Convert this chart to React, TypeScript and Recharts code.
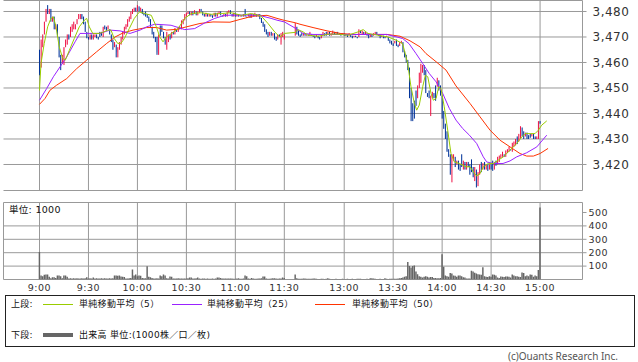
import { ComposedChart, Bar, Line, XAxis, YAxis, CartesianGrid } from "recharts";

// minute index from 9:00; afternoon session (12:30) starts after a small gap
const pmStart = 156.7;
const amTicks = [0, 30, 60, 90, 120, 150];
const pmTicks = [30, 60, 90, 120, 150];
const timeLabels = ["9:00", "9:30", "10:00", "10:30", "11:00", "11:30", "13:00", "13:30", "14:00", "14:30", "15:00"];
const timeTicks = [...amTicks, ...pmTicks.map((m) => pmStart + m)];
const xDomain: [number, number] = [-22.06, 332.7];

const priceTicks = [3420, 3430, 3440, 3450, 3460, 3470, 3480];
const priceDomain: [number, number] = [3409.8, 3484.31];
const volTicks = [100, 200, 300, 400, 500];
const volGrid = [100, 200, 300, 400];
const volDomain: [number, number] = [0, 574.6];

// morning session 9:00-11:30, one candle per minute
const amOpen = [
  3465, 3458, 3466, 3471, 3476, 3481, 3479, 3481, 3476, 3478,
  3473, 3475, 3470, 3463, 3459.5, 3462, 3466, 3467, 3471, 3470,
  3472, 3473, 3473, 3475, 3477, 3477, 3479, 3478, 3476, 3472,
  3470, 3469, 3471, 3469, 3470, 3471, 3470, 3472, 3472, 3470,
  3474.5, 3474, 3473, 3473, 3471, 3469, 3466, 3467, 3464, 3465,
  3467, 3469, 3471, 3473, 3474, 3476, 3477, 3479, 3480, 3481.5,
  3480, 3482, 3480, 3481, 3479.5, 3480, 3479, 3478, 3477, 3474,
  3472, 3470, 3470, 3463, 3474.5, 3474.5, 3472, 3470, 3466, 3468,
  3471, 3469.5, 3472, 3471, 3473, 3472, 3474, 3473, 3475, 3476.5,
  3478, 3479, 3480, 3478.5, 3480, 3479, 3480, 3478.5, 3479.5, 3481,
  3480, 3479, 3478, 3479, 3478, 3479, 3478.5, 3478, 3479.5, 3478,
  3479, 3480, 3478.5, 3478, 3479, 3478, 3479.5, 3480.5, 3479, 3478,
  3479.5, 3478, 3479, 3478, 3478.5, 3478, 3480.5, 3478, 3478, 3479,
  3477.5, 3479, 3478, 3479, 3478, 3479, 3477.5, 3476, 3475, 3473,
  3472, 3470.5, 3472, 3470.5, 3471.5, 3470, 3469, 3471, 3468, 3470,
  3469,
];
const amClose = [
  3458, 3468, 3471, 3476, 3481, 3479, 3481, 3476, 3478, 3473,
  3475, 3470, 3462, 3459, 3463, 3466, 3469, 3471, 3469, 3474,
  3475, 3476, 3475, 3477, 3479, 3479, 3477, 3475, 3472, 3469.5,
  3469, 3471, 3469, 3471, 3471, 3469.5, 3469, 3470, 3470.5, 3474,
  3473, 3472.5, 3474.5, 3471, 3468, 3465, 3468, 3464, 3466, 3468,
  3470, 3472, 3474, 3475, 3477, 3478, 3480, 3481, 3481.5, 3480,
  3482, 3480, 3481.5, 3479, 3478.5, 3478, 3477.5, 3476, 3474, 3471,
  3469.5, 3468, 3464, 3471, 3470.5, 3472, 3469.5, 3467, 3472, 3471,
  3469, 3472, 3471, 3473.5, 3472, 3474, 3473, 3476.5, 3477, 3479,
  3479.5, 3480, 3478.5, 3480, 3478.5, 3480.5, 3478.5, 3480, 3481, 3480,
  3478.5, 3478, 3479.5, 3478, 3479, 3478, 3477.5, 3479.5, 3478, 3479.5,
  3480, 3478.5, 3478, 3479, 3478, 3480, 3480.5, 3479, 3478, 3479.5,
  3478, 3479, 3478, 3478.5, 3478, 3479, 3478, 3477.5, 3479, 3477.5,
  3479, 3478, 3479.5, 3478, 3479, 3477, 3475.5, 3474, 3472, 3471,
  3470, 3472, 3470.5, 3471.5, 3469, 3468.5, 3471, 3470, 3471.5, 3472,
  3471,
];
// [minute, low, high] where a wick shows
const amWicks = [
  [0, 3455, 3465], [1, 3458, 3469], [5, 3479, 3482.5], [13, 3457, 3463],
  [15, 3459, 3466], [47, 3462, 3467], [48, 3462, 3466], [60, 3480, 3482.5],
  [72, 3463, 3470], [78, 3465, 3472], [126, 3478, 3481], [148, 3467, 3471.5],
];

// afternoon session 12:30-15:00
const pmOpen = [
  3470.5, 3474, 3472.5, 3471, 3471.5, 3470.5, 3471.5, 3470.5, 3471, 3470.5,
  3471, 3470.5, 3470.5, 3470, 3470.5, 3470, 3469.5, 3470.5, 3471.5, 3472,
  3471, 3472, 3470.5, 3471, 3472, 3471, 3472, 3471, 3471.5, 3471,
  3471.5, 3471, 3471, 3470.5, 3471, 3470.5, 3470, 3470.5, 3470, 3470,
  3472.5, 3471, 3472, 3471, 3471.5, 3471, 3470, 3471, 3470.5, 3471,
  3472, 3471, 3471, 3470, 3470.5, 3470, 3470, 3470, 3469, 3468.5,
  3467.5, 3467.5, 3469, 3467, 3466.5, 3467.5, 3468, 3464.5, 3463, 3461,
  3458, 3450, 3444, 3445, 3449, 3446, 3450, 3452, 3456, 3459,
  3457, 3448, 3449, 3440, 3446, 3448, 3451, 3450.5, 3453, 3451,
  3447, 3441, 3436, 3433, 3426, 3424, 3419, 3421.5, 3423, 3420,
  3421.5, 3420, 3424, 3418, 3421, 3418, 3421, 3420, 3422, 3419,
  3413.5, 3418, 3414, 3416, 3421, 3418, 3421, 3418, 3420, 3418,
  3420, 3421.5, 3418, 3421.5, 3420, 3421, 3422.5, 3423, 3424, 3423,
  3424.5, 3425, 3426, 3425, 3427, 3427.5, 3431, 3429, 3430, 3434.5,
  3433, 3431, 3432.5, 3431.5, 3432, 3431, 3432, 3431, 3430, 3430,
  3437,
];
const pmClose = [
  3475, 3471, 3470.5, 3470, 3470.5, 3471.5, 3470.5, 3471, 3470.5, 3472,
  3470.5, 3470, 3469.5, 3471, 3469.5, 3469, 3470.5, 3472, 3470.5, 3470.5,
  3472, 3470.5, 3471.5, 3472.5, 3471, 3472, 3471, 3471.5, 3470.5, 3471.5,
  3470.5, 3470.5, 3470, 3471.5, 3470, 3469.5, 3470.5, 3470, 3469.5, 3473,
  3471.5, 3472.5, 3471, 3472, 3470.5, 3469.5, 3471, 3470, 3471.5, 3472,
  3471, 3470.5, 3469.5, 3470.5, 3469.5, 3469.5, 3470.5, 3468.5, 3467.5, 3467,
  3466.5, 3468.5, 3466.5, 3466, 3468, 3468.5, 3464, 3462, 3460, 3457,
  3446, 3440, 3439, 3438, 3443, 3451, 3456, 3459.5, 3459, 3455,
  3448, 3446.5, 3446, 3447, 3448.5, 3446, 3445, 3454, 3449, 3447,
  3438, 3434, 3430, 3425, 3423, 3416, 3424, 3424, 3419, 3421.5,
  3418, 3417.5, 3419, 3421.5, 3418, 3421, 3419, 3416, 3417, 3415,
  3419, 3414, 3417, 3420, 3417, 3420.5, 3418, 3420, 3417.5, 3420,
  3418, 3417.5, 3421, 3419.5, 3423, 3423.5, 3424, 3425, 3423, 3425.5,
  3426, 3427, 3425.5, 3428.5, 3429, 3430, 3428, 3432, 3435, 3431,
  3430, 3432.5, 3430, 3430, 3430.5, 3432, 3430, 3430, 3431, 3437,
  3436,
];
const pmWicks = [
  [0, 3470.5, 3475.5], [71, 3437, 3450], [72, 3437, 3444], [83, 3439, 3447],
  [96, 3413, 3424], [111, 3411, 3418], [112, 3411.5, 3417],
];

// volume, in 1000 shares
const amVol = [
  205, 30, 25, 35, 37, 37, 20, 10, 17, 17,
  12, 30, 30, 25, 10, 30, 30, 20, 8, 10,
  8, 10, 8, 10, 8, 8, 10, 8, 10, 17,
  8, 10, 8, 15, 8, 10, 8, 8, 10, 8,
  10, 8, 8, 10, 8, 10, 30, 30, 28, 30,
  22, 20, 18, 8, 8, 10, 12, 74, 30, 37,
  25, 30, 28, 12, 10, 10, 99, 20, 17, 12,
  8, 8, 10, 8, 30, 25, 37, 30, 10, 8,
  22, 20, 8, 8, 8, 10, 8, 8, 8, 8,
  8, 10, 15, 15, 8, 8, 10, 15, 8, 6,
  8, 8, 6, 8, 6, 6, 8, 6, 8, 15,
  15, 12, 8, 8, 8, 8, 8, 8, 8, 6,
  6, 8, 10, 6, 6, 8, 30, 25, 8, 6,
  12, 8, 6, 6, 8, 8, 10, 22, 22, 8,
  6, 6, 8, 10, 10, 8, 6, 8, 8, 15,
  12,
];
const pmVol = [
  37, 10, 6, 5, 5, 8, 8, 6, 5, 5,
  6, 8, 8, 5, 4, 4, 5, 5, 4, 5,
  10, 5, 4, 4, 4, 5, 4, 4, 4, 5,
  4, 4, 5, 4, 4, 5, 4, 4, 5, 6,
  5, 4, 4, 4, 5, 4, 10, 10, 8, 5,
  4, 4, 5, 4, 4, 10, 5, 4, 5, 5,
  6, 5, 6, 8, 10, 12, 15, 20, 25, 131,
  100, 90, 100, 104, 60, 40, 25, 20, 15, 20,
  25, 20, 15, 18, 18, 12, 12, 10, 10, 12,
  188, 96, 30, 25, 20, 48, 45, 30, 28, 20,
  30, 30, 25, 17, 15, 8, 8, 8, 65, 60,
  50, 45, 40, 37, 35, 92, 25, 20, 18, 25,
  20, 37, 35, 30, 15, 12, 22, 20, 18, 22,
  22, 20, 15, 37, 30, 25, 25, 20, 18, 52,
  48, 25, 30, 25, 37, 35, 20, 30, 25, 70,
  538,
];

// moving averages: [minute index, value]
const ma5 = [
  [0, 3449], [0.9, 3459.6], [2.9, 3467.5], [5, 3474], [7, 3477.3], [8.5, 3477.9], [10.1, 3474],
  [12.1, 3466.1], [14.2, 3461.6], [15.8, 3460.9], [18.3, 3464.8], [21.3, 3469.4], [24.4, 3474],
  [27.5, 3476.6], [28.9, 3477.3], [30.5, 3474], [32.6, 3471.4], [36.6, 3471.4], [38.7, 3471.8],
  [41.8, 3472.7], [43.8, 3472.7], [45.8, 3469.4], [47.9, 3467.5], [49.9, 3467.5], [52, 3469.4],
  [55, 3473.3], [58.1, 3477.3], [61.2, 3479.8], [64.5, 3479.2], [68.5, 3478.5], [71.6, 3474],
  [73.7, 3470], [75.7, 3468.1], [77.7, 3470], [80.8, 3471.4], [84.9, 3473.3], [89, 3477.3],
  [93, 3479.2], [99.1, 3479.5], [105.3, 3478.9], [111.4, 3479.2], [117.5, 3479.5], [123.7, 3478.5],
  [129.8, 3479.2], [135.9, 3478.2], [140, 3475.3], [144.1, 3472], [147.2, 3470], [150.1, 3471.4],
  [156.6, 3471.8], [158.4, 3472.9], [161.5, 3472], [164.5, 3470.7], [170.6, 3470.3], [176.8, 3471.1],
  [182.9, 3471.1], [189, 3470.7], [195.2, 3472], [198.3, 3472.9], [201.3, 3471.4], [207.4, 3470.7],
  [213.5, 3470], [218.4, 3468.8], [222.5, 3467.4], [225.6, 3459.6], [227.6, 3450.5], [229.7, 3443.9],
  [231.1, 3441.3], [232.7, 3443.3], [234.8, 3450.5], [236.4, 3455], [237.9, 3454.4], [239.9, 3447.8],
  [241.3, 3445.2], [243, 3445.9], [244.6, 3450.5], [246, 3449.8], [248, 3442.6], [250.1, 3433.5],
  [252.1, 3424.3], [254.2, 3421], [257.2, 3420.4], [261.3, 3419.1], [263.8, 3419.1], [265.8, 3417.1],
  [267.8, 3415.5], [269.9, 3416.4], [271.9, 3419.1], [275, 3420.4], [278.1, 3420.4], [281.1, 3421.7],
  [284.2, 3423], [288.3, 3425.6], [292.4, 3428.2], [295.5, 3430.8], [297.5, 3432.1], [300.6, 3432.1],
  [303.6, 3432.1], [305.6, 3433.4], [307.7, 3435.4], [310.8, 3437.1],
];
const ma25 = [
  [0, 3445.2], [4.4, 3449.8], [8.5, 3454.4], [12.6, 3458.3], [16.7, 3462.2], [21.8, 3468.1],
  [24.8, 3471.4], [30.9, 3471.4], [37.1, 3471.4], [43.2, 3472.7], [49.3, 3472.4], [55.5, 3471.4],
  [61.6, 3472.7], [65.7, 3474], [70.6, 3475], [73.8, 3474.9], [80.6, 3474.6], [89, 3472.9],
  [95.1, 3473.3], [101.2, 3475.5], [107.4, 3477.3], [113.5, 3478.5], [121.6, 3478.6], [133.9, 3478.6],
  [141.9, 3477.3], [145.5, 3476.6], [150.1, 3475.9], [156.6, 3473.5], [161.5, 3471.4], [167.6, 3471],
  [179.8, 3471], [212.9, 3471], [218.4, 3470.1], [222.5, 3469.4], [226.4, 3467.4], [230.7, 3463.5],
  [234.8, 3459.6], [238.8, 3455.7], [243, 3452.4], [247.1, 3447.8], [251.1, 3442], [255.2, 3437.4],
  [259.3, 3434.1], [263.4, 3431.5], [267.9, 3428.2], [271.9, 3423], [274, 3421], [278.1, 3420.4],
  [284, 3420.4], [288.3, 3421.4], [292.4, 3423], [298.5, 3424.6], [304.7, 3426.9], [310.8, 3431.5],
];
const ma50 = [
  [0, 3443.6], [3.4, 3445.9], [6.4, 3449.1], [10.5, 3451.1], [16.7, 3453.7], [22.8, 3457.6],
  [28.9, 3460.9], [35, 3464.2], [41.2, 3467.5], [46.3, 3470], [51.2, 3471.6], [57.3, 3472.7],
  [65.7, 3473.7], [71.8, 3473.7], [77.9, 3472.7], [84.1, 3473], [90.2, 3474], [98.3, 3475.3],
  [106.3, 3475.9], [116.7, 3475.8], [122.9, 3476.9], [130.8, 3478.2], [139.4, 3478.5], [145.5, 3477.3],
  [150.1, 3476.5], [156.6, 3475.6], [159.6, 3475], [167.6, 3473.7], [176.2, 3472.4], [184.2, 3471.4],
  [192.1, 3471], [200.7, 3471], [212.9, 3471], [220.9, 3470.3], [227, 3468.5], [233.2, 3466.1],
  [236.8, 3463.5], [243, 3460.3], [249.1, 3457], [255.2, 3450.8], [263.8, 3443.9], [269.9, 3438.7],
  [276, 3433.5], [282.2, 3429.5], [288.3, 3426.9], [294.4, 3424.3], [298.5, 3423.3], [302.6, 3423.3],
  [306.7, 3424.3], [311.6, 3426.3],
];

const UP = "#EE1144";
const DOWN = "#003399";
const GRID = "#999999";
const C5 = "#99CC00";
const C25 = "#9922FF";
const C50 = "#FF3300";
const VOL = "#666666";

function buildCandles(opens: number[], closes: number[], wicks: number[][], offset: number) {
  const wickMap = new Map(wicks.map((w) => [w[0], w]));
  return opens.map((o, i) => {
    const c = closes[i];
    const w = wickMap.get(i);
    const lo = Math.min(o, c, w ? w[1] : Infinity);
    const hi = Math.max(o, c, w ? w[2] : -Infinity);
    return { t: offset + i, o, c, lo, hi, range: [lo, hi] };
  });
}

const candles = [
  ...buildCandles(amOpen, amClose, amWicks, 0),
  ...buildCandles(pmOpen, pmClose, pmWicks, pmStart),
];
const volumes = [
  ...amVol.map((v, i) => ({ t: i, v })),
  ...pmVol.map((v, i) => ({ t: pmStart + i, v })),
];
const toPoints = (rows: number[][]) => rows.map(([t, v]) => ({ t, v }));

function Candle(props: any) {
  const { x, y, width, height, payload } = props;
  if (!payload || x == null) return null;
  const { o, c, lo, hi } = payload;
  const top = Math.min(y, y + height);
  const h = Math.abs(height);
  const k = hi > lo ? h / (hi - lo) : 0;
  const bodyTop = top + (hi - Math.max(o, c)) * k;
  const bodyH = Math.max(1, Math.abs(o - c) * k);
  const color = c >= o ? UP : DOWN;
  const cx = x + width / 2;
  return (
    <g>
      <line x1={cx} x2={cx} y1={top} y2={top + h} stroke={color} strokeWidth={1} />
      <rect x={x} y={bodyTop} width={width} height={bodyH} fill={color} />
    </g>
  );
}

const tickLabel = (v: number) => {
  const i = timeTicks.findIndex((t) => Math.abs(t - v) < 0.01);
  return i >= 0 ? timeLabels[i] : "";
};

const legendFont = "'DejaVu Sans', 'Noto Sans CJK JP', sans-serif";

function Txt({ left, cy, size, children, color = "#111" }: any) {
  return (
    <div
      style={{
        position: "absolute",
        left,
        top: cy - 7,
        height: 14,
        lineHeight: "14px",
        fontSize: size,
        fontFamily: legendFont,
        color,
        whiteSpace: "nowrap",
        letterSpacing: 0.3,
      }}
    >
      {children}
    </div>
  );
}

function Swatch({ left, cy, color, h = 1 }: any) {
  return (
    <div style={{ position: "absolute", left, top: cy - h / 2, width: 30, height: h, background: color }} />
  );
}

export default function App() {
  return (
    <div style={{ position: "absolute", left: 0, top: 0, width: 638, height: 362, background: "#fff" }}>
      <div style={{ position: "absolute", left: 0, top: 0 }}>
        <ComposedChart
          width={638}
          height={195}
          data={candles}
          margin={{ top: 0.5, right: 0, bottom: 4.5, left: 3.5 }}
        >
          <CartesianGrid
            stroke={GRID}
            horizontalValues={[priceDomain[0], ...priceTicks, priceDomain[1]]}
            verticalValues={[xDomain[0], ...timeTicks, xDomain[1]]}
          />
          <XAxis dataKey="t" type="number" domain={xDomain} allowDataOverflow hide ticks={timeTicks} />
          <YAxis
            orientation="right"
            width={55.5}
            type="number"
            domain={priceDomain}
            allowDataOverflow
            ticks={priceTicks}
            interval={0}
            axisLine={false}
            tickLine={{ stroke: GRID }}
            tickSize={4}
            tickMargin={6}
            tickFormatter={(v: number) => v.toLocaleString("en-US")}
            tick={{ fontSize: 12, fill: "#333", fontFamily: "'DejaVu Sans'", textAnchor: "start", letterSpacing: 0.5 }}
          />
          <Bar dataKey="range" barSize={3} isAnimationActive={false} shape={(p: any) => <Candle {...p} />} />
          <Line data={toPoints(ma50)} dataKey="v" type="linear" dot={false} stroke={C50} strokeWidth={1} isAnimationActive={false} />
          <Line data={toPoints(ma25)} dataKey="v" type="linear" dot={false} stroke={C25} strokeWidth={1} isAnimationActive={false} />
          <Line data={toPoints(ma5)} dataKey="v" type="linear" dot={false} stroke={C5} strokeWidth={1} isAnimationActive={false} />
        </ComposedChart>
      </div>

      <div style={{ position: "absolute", left: 0, top: 195 }}>
        <ComposedChart
          width={638}
          height={100}
          data={volumes}
          margin={{ top: 7.5, right: 0, bottom: 0, left: 3.5 }}
        >
          <CartesianGrid
            stroke={GRID}
            horizontalValues={[volDomain[0], ...volGrid, volDomain[1]]}
            verticalValues={[xDomain[0], ...timeTicks, xDomain[1]]}
          />
          <XAxis
            dataKey="t"
            type="number"
            domain={xDomain}
            allowDataOverflow
            ticks={timeTicks}
            interval={0}
            height={15.5}
            axisLine={false}
            tickLine={false}
            tickSize={0}
            tickMargin={5}
            tickFormatter={tickLabel}
            tick={{ fontSize: 9.5, fill: "#333", fontFamily: "'DejaVu Sans'", letterSpacing: 0.5 }}
          />
          <YAxis
            orientation="right"
            width={55.5}
            type="number"
            domain={volDomain}
            allowDataOverflow
            ticks={volTicks}
            interval={0}
            axisLine={false}
            tickLine={{ stroke: GRID }}
            tickSize={4}
            tickMargin={2}
            tick={{ fontSize: 9.5, fill: "#333", fontFamily: "'DejaVu Sans'", textAnchor: "start", letterSpacing: 0.5 }}
          />
          <Bar dataKey="v" barSize={2} fill={VOL} isAnimationActive={false} />
        </ComposedChart>
      </div>

      <Txt left={9} cy={209.5} size={9.5}>単位: 1000</Txt>

      <div
        style={{
          position: "absolute",
          left: 5,
          top: 295,
          width: 630,
          height: 52,
          border: "1px solid #222",
          boxSizing: "border-box",
        }}
      />
      <Txt left={11} cy={304} size={9}>上段:</Txt>
      <Swatch left={43} cy={304} color={C5} />
      <Txt left={79} cy={304} size={9}>単純移動平均（5）</Txt>
      <Swatch left={172} cy={304} color={C25} />
      <Txt left={207} cy={304} size={9}>単純移動平均（25）</Txt>
      <Swatch left={315} cy={304} color={C50} />
      <Txt left={352} cy={304} size={9}>単純移動平均（50）</Txt>
      <Txt left={11} cy={335} size={9}>下段:</Txt>
      <Swatch left={43} cy={335} color={VOL} h={4} />
      <Txt left={79} cy={335} size={9}>出来高 単位:(1000株／口／枚)</Txt>

      <div
        style={{
          position: "absolute",
          right: 20,
          top: 349,
          lineHeight: "14px",
          fontSize: 10,
          fontFamily: "'Noto Sans', sans-serif",
          color: "#555",
          whiteSpace: "nowrap",
        }}
      >
        (c)Ouants Research Inc.
      </div>
    </div>
  );
}
